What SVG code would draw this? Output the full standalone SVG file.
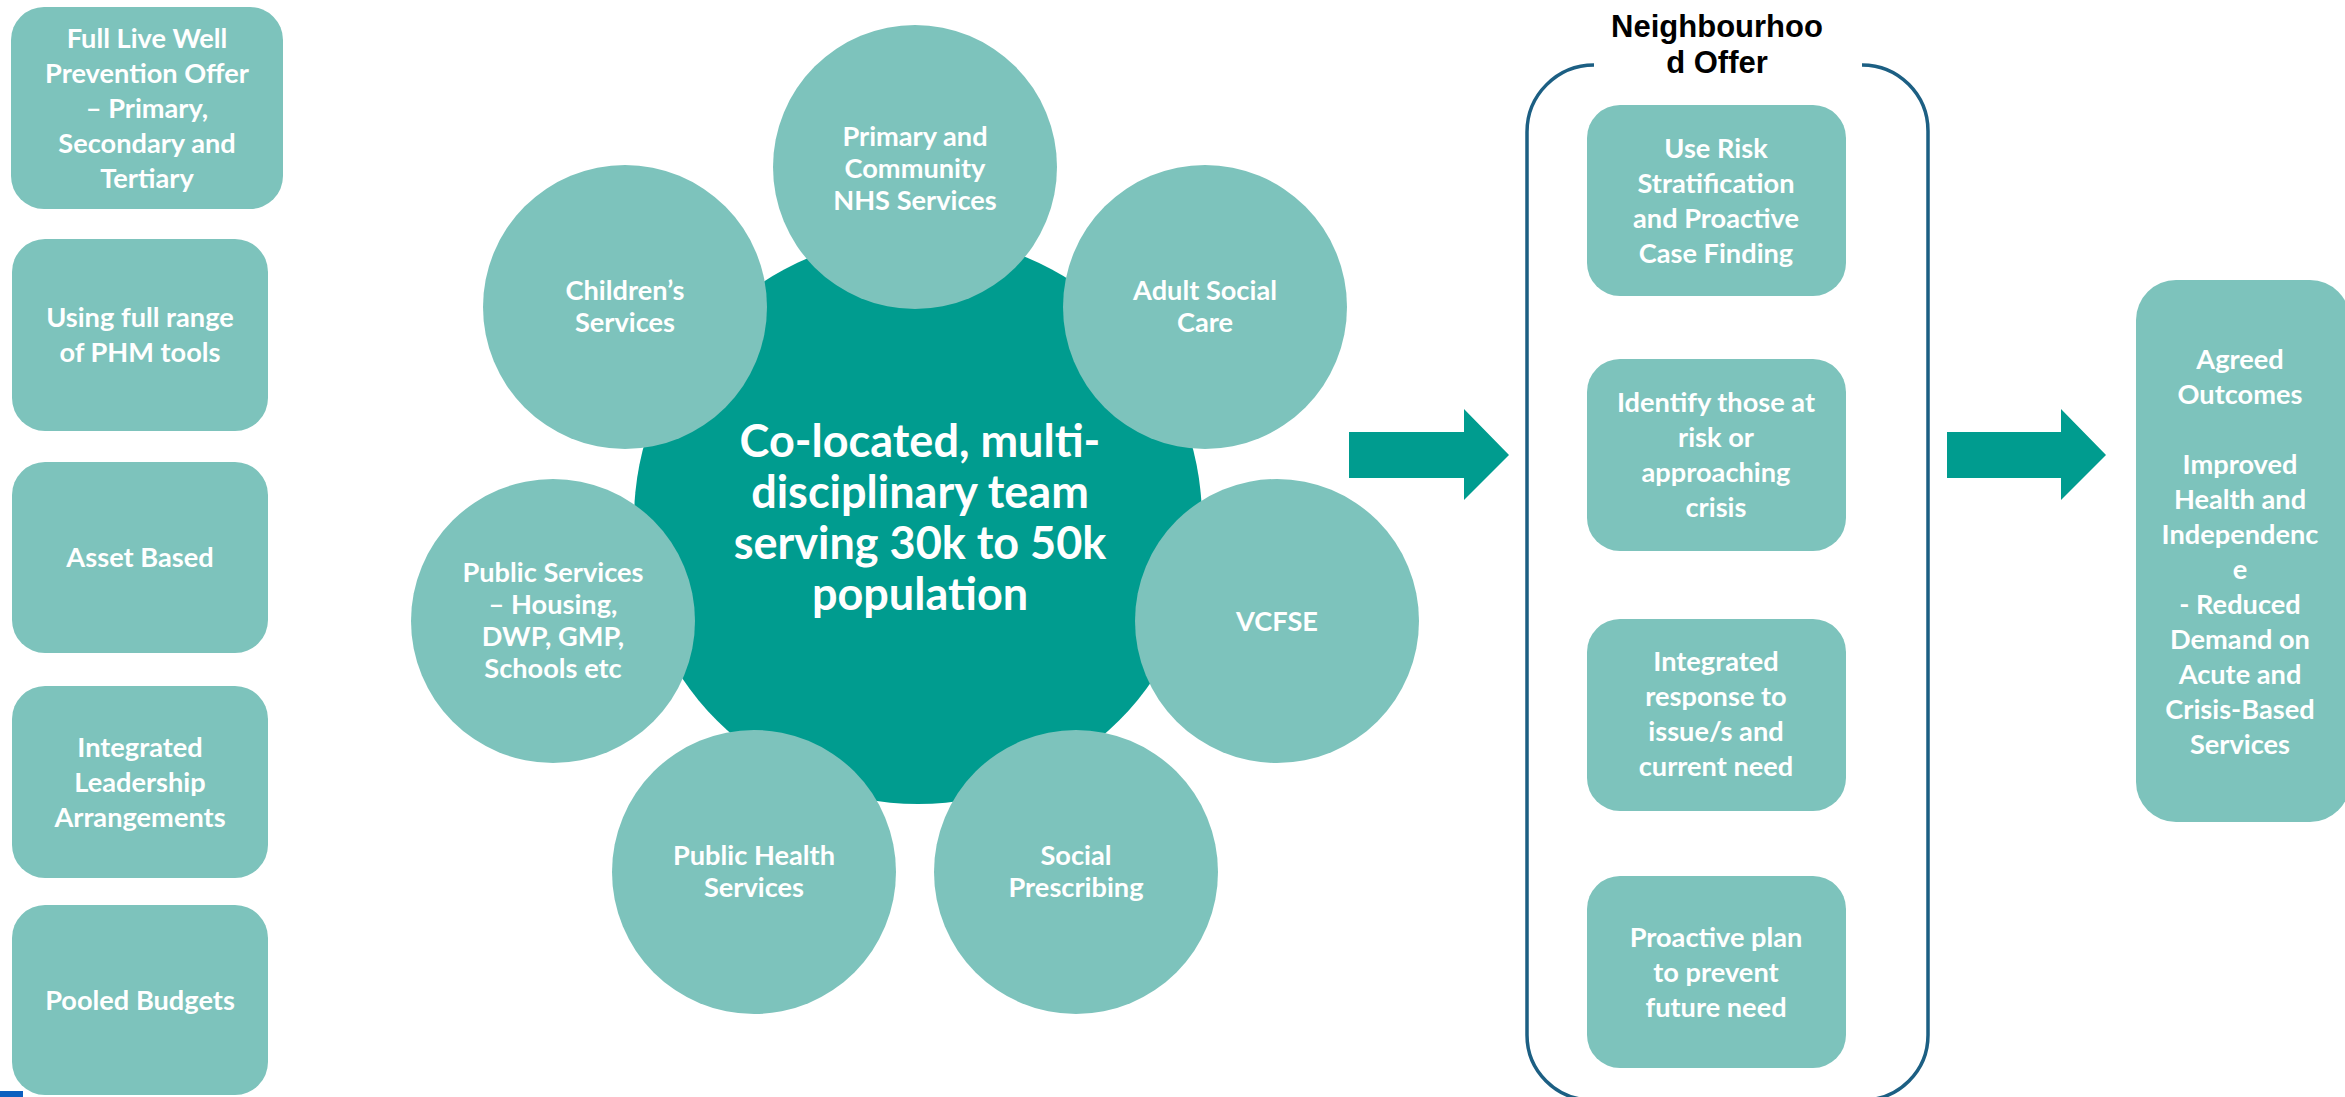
<svg xmlns="http://www.w3.org/2000/svg" width="2345" height="1097" viewBox="0 0 2345 1097">
  <style>
    .box { fill: #7DC3BC; }
    .sat { fill: #7DC3BC; }
    .hub { fill: #009C8F; }
    .arrow { fill: #009C8F; }
    .frame { fill: none; stroke: #1C5F83; stroke-width: 3.5; }
    .t { font-family: Lato, Carlito, "Liberation Sans", sans-serif; font-weight: bold; font-size: 27.2px; fill: #FFFFFF; text-anchor: middle; }
    .hubt { font-family: Lato, Carlito, "Liberation Sans", sans-serif; font-weight: bold; font-size: 45px; fill: #FFFFFF; text-anchor: middle; }
    .title { font-family: "Liberation Sans", Arial, sans-serif; font-weight: bold; font-size: 31px; fill: #000000; text-anchor: middle; }
  </style>

  <!-- left column: enabling principles -->
  <g id="principle-prevention">
    <rect class="box" x="11" y="7" width="272" height="202" rx="33"/>
    <text class="t"><tspan x="147" y="48">Full Live Well</tspan><tspan x="147" y="83">Prevention Offer</tspan><tspan x="147" y="118">– Primary,</tspan><tspan x="147" y="153">Secondary and</tspan><tspan x="147" y="188">Tertiary</tspan></text>
  </g>
  <g id="principle-phm">
    <rect class="box" x="12" y="239" width="256" height="192" rx="33"/>
    <text class="t"><tspan x="140" y="327">Using full range</tspan><tspan x="140" y="362">of PHM tools</tspan></text>
  </g>
  <g id="principle-asset">
    <rect class="box" x="12" y="462" width="256" height="191" rx="33"/>
    <text class="t" x="140" y="567">Asset Based</text>
  </g>
  <g id="principle-leadership">
    <rect class="box" x="12" y="686" width="256" height="192" rx="33"/>
    <text class="t"><tspan x="140" y="757">Integrated</tspan><tspan x="140" y="792">Leadership</tspan><tspan x="140" y="827">Arrangements</tspan></text>
  </g>
  <g id="principle-budgets">
    <rect class="box" x="12" y="905" width="256" height="190" rx="33"/>
    <text class="t" x="140" y="1010">Pooled Budgets</text>
  </g>
  <rect id="corner-tab" x="0" y="1091" width="23" height="6" fill="#0B5FBF"/>

  <!-- central team with surrounding partner services -->
  <g id="hub">
    <circle class="hub" cx="918" cy="520" r="284"/>
    <text class="hubt"><tspan x="920" y="457">Co-located, multi-</tspan><tspan x="920" y="508">disciplinary team</tspan><tspan x="920" y="559">serving 30k to 50k</tspan><tspan x="920" y="610">population</tspan></text>
  </g>
  <g id="svc-primary">
    <circle class="sat" cx="915" cy="167" r="142"/>
    <text class="t"><tspan x="915" y="146">Primary and</tspan><tspan x="915" y="178">Community</tspan><tspan x="915" y="210">NHS Services</tspan></text>
  </g>
  <g id="svc-adult">
    <circle class="sat" cx="1205" cy="307" r="142"/>
    <text class="t"><tspan x="1205" y="300">Adult Social</tspan><tspan x="1205" y="332">Care</tspan></text>
  </g>
  <g id="svc-vcfse">
    <circle class="sat" cx="1277" cy="621" r="142"/>
    <text class="t" x="1277" y="631">VCFSE</text>
  </g>
  <g id="svc-social">
    <circle class="sat" cx="1076" cy="872" r="142"/>
    <text class="t"><tspan x="1076" y="865">Social</tspan><tspan x="1076" y="897">Prescribing</tspan></text>
  </g>
  <g id="svc-publichealth">
    <circle class="sat" cx="754" cy="872" r="142"/>
    <text class="t"><tspan x="754" y="865">Public Health</tspan><tspan x="754" y="897">Services</tspan></text>
  </g>
  <g id="svc-public">
    <circle class="sat" cx="553" cy="621" r="142"/>
    <text class="t"><tspan x="553" y="582">Public Services</tspan><tspan x="553" y="614">– Housing,</tspan><tspan x="553" y="646">DWP, GMP,</tspan><tspan x="553" y="678">Schools etc</tspan></text>
  </g>
  <g id="svc-children">
    <circle class="sat" cx="625" cy="307" r="142"/>
    <text class="t"><tspan x="625" y="300">Children’s</tspan><tspan x="625" y="332">Services</tspan></text>
  </g>

  <!-- neighbourhood offer panel -->
  <g id="neighbourhood-offer">
    <path class="frame" d="M1594 65 A67 67 0 0 0 1527 132 L1527 1035 A65 65 0 0 0 1592 1100 L1863 1100 A65 65 0 0 0 1928 1035 L1928 131 A66 66 0 0 0 1862 65"/>
    <text class="title"><tspan x="1717" y="37">Neighbourhoo</tspan><tspan x="1717" y="73">d Offer</tspan></text>
  </g>
  <g id="offer-risk">
    <rect class="box" x="1587" y="105" width="259" height="191" rx="33"/>
    <text class="t"><tspan x="1716" y="158">Use Risk</tspan><tspan x="1716" y="193">Stratification</tspan><tspan x="1716" y="228">and Proactive</tspan><tspan x="1716" y="263">Case Finding</tspan></text>
  </g>
  <g id="offer-identify">
    <rect class="box" x="1587" y="359" width="259" height="192" rx="33"/>
    <text class="t"><tspan x="1716" y="412">Identify those at</tspan><tspan x="1716" y="447">risk or</tspan><tspan x="1716" y="482">approaching</tspan><tspan x="1716" y="517">crisis</tspan></text>
  </g>
  <g id="offer-response">
    <rect class="box" x="1587" y="619" width="259" height="192" rx="33"/>
    <text class="t"><tspan x="1716" y="671">Integrated</tspan><tspan x="1716" y="706">response to</tspan><tspan x="1716" y="741">issue/s and</tspan><tspan x="1716" y="776">current need</tspan></text>
  </g>
  <g id="offer-plan">
    <rect class="box" x="1587" y="876" width="259" height="192" rx="33"/>
    <text class="t"><tspan x="1716" y="947">Proactive plan</tspan><tspan x="1716" y="982">to prevent</tspan><tspan x="1716" y="1017">future need</tspan></text>
  </g>

  <!-- outcomes -->
  <g id="outcomes">
    <rect class="box" x="2136" y="280" width="214" height="542" rx="40"/>
    <text class="t"><tspan x="2240" y="369">Agreed</tspan><tspan x="2240" y="404">Outcomes</tspan><tspan x="2240" y="474">Improved</tspan><tspan x="2240" y="509">Health and</tspan><tspan x="2240" y="544">Independenc</tspan><tspan x="2240" y="579">e</tspan><tspan x="2240" y="614">- Reduced</tspan><tspan x="2240" y="649">Demand on</tspan><tspan x="2240" y="684">Acute and</tspan><tspan x="2240" y="719">Crisis-Based</tspan><tspan x="2240" y="754">Services</tspan></text>
  </g>

  <!-- flow arrows -->
  <g id="connectors">
    <polygon class="arrow" points="1349,432 1464,432 1464,409 1509,455 1464,500 1464,478 1349,478"/>
    <polygon class="arrow" points="1947,432 2061,432 2061,409 2106,455 2061,500 2061,478 1947,478"/>
  </g>
</svg>
